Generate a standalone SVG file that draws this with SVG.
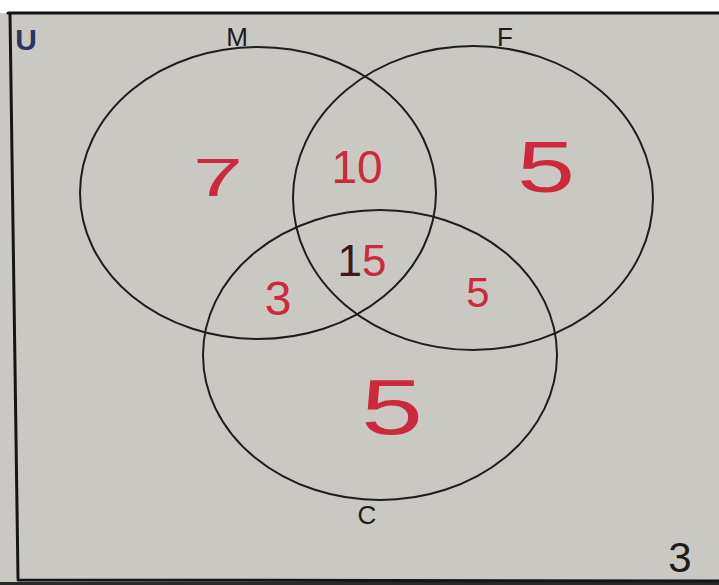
<svg xmlns="http://www.w3.org/2000/svg" width="719" height="585" viewBox="0 0 719 585">
  <style>
    .ring { fill: none; stroke: #1e1e1e; stroke-width: 2; }
    .frame { fill: none; stroke: #151515; stroke-width: 3; stroke-linecap: round; }
    .lbl { font-family: "Liberation Sans", "DejaVu Sans", sans-serif; fill: #1c1c1c; text-anchor: middle; }
    .num { font-family: "Liberation Sans", "DejaVu Sans", sans-serif; fill: #cc2a3c; text-anchor: middle; }
  </style>
  <rect x="0" y="0" width="719" height="585" fill="#ffffff"/>
  <rect x="0" y="13" width="719" height="572" fill="#c9c8c3"/>
  <rect x="0" y="582" width="719" height="3" fill="#2a2a2a"/>
  <g id="universe">
    <path class="frame" d="M8 13 L719 13 M10 14 L18 578 M18 580 L719 581"/>
    <text class="lbl" x="26" y="50" font-size="30" font-weight="bold" style="fill:#2a3566">U</text>
    <text class="lbl" x="680" y="572" font-size="42">3</text>
  </g>
  <g id="set-M">
    <ellipse class="ring" cx="258" cy="193" rx="178" ry="146"/>
    <text class="lbl" x="237" y="46" font-size="26">M</text>
  </g>
  <g id="set-F">
    <ellipse class="ring" cx="473" cy="198" rx="180" ry="152"/>
    <text class="lbl" x="505" y="46" font-size="26">F</text>
  </g>
  <g id="set-C">
    <ellipse class="ring" cx="380" cy="355" rx="177" ry="145"/>
    <text class="lbl" x="367" y="524" font-size="26">C</text>
  </g>
  <g id="regions">
    <text class="num" x="218" y="196" font-size="54" textLength="50" lengthAdjust="spacingAndGlyphs">7</text>
    <text class="num" x="357" y="183" font-size="46">10</text>
    <text class="num" x="546" y="192" font-size="72" textLength="58" lengthAdjust="spacingAndGlyphs">5</text>
    <text class="num" x="362" y="276" font-size="44"><tspan fill="#3a1a1e">1</tspan>5</text>
    <text class="num" x="278" y="315" font-size="48">3</text>
    <text class="num" x="478" y="307" font-size="42">5</text>
    <text class="num" x="392" y="434" font-size="78" textLength="62" lengthAdjust="spacingAndGlyphs">5</text>
  </g>
</svg>
